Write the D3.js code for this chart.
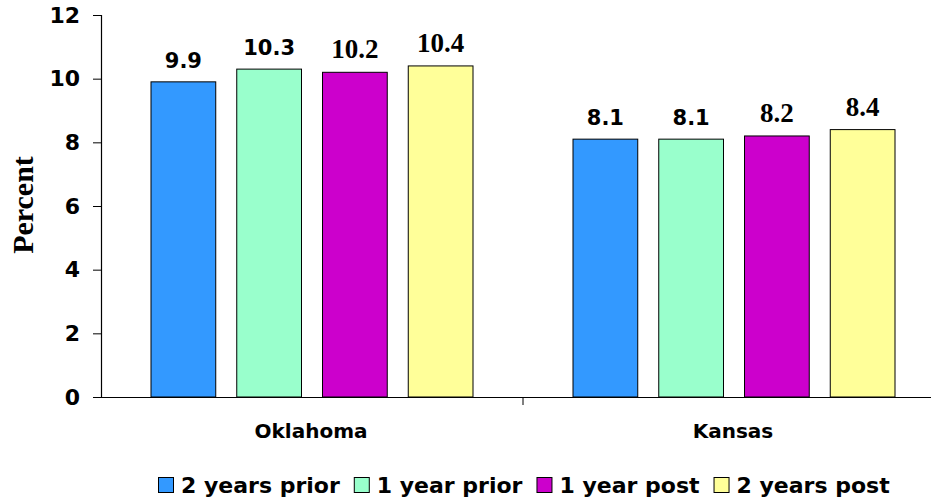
<!DOCTYPE html>
<html>
<head>
<meta charset="utf-8">
<script src="https://cdn.jsdelivr.net/npm/d3@7"></script>
<style>
  html, body { margin: 0; padding: 0; background: #fff; }
  svg { display: block; }
</style>
</head>
<body>
<svg id="chart" width="931" height="500"></svg>
<script>
// Chart data
const states = ["Oklahoma", "Kansas"];
const periods = ["2 years prior", "1 year prior", "1 year post", "2 years post"];
const oklahomaValues = [9.9, 10.3, 10.2, 10.4];
const kansasValues = [8.1, 8.1, 8.2, 8.4];
const yTicks = [0, 2, 4, 6, 8, 10, 12];
const periodColors = ["#3399FF", "#99FFCC", "#CC00CC", "#FFFF99"];

const valuesByState = { "Oklahoma": oklahomaValues, "Kansas": kansasValues };

const sansBold = "'DejaVu Sans', Verdana, sans-serif";
const serifBold = "'Liberation Serif', 'Times New Roman', serif";
// value labels use a sans face for the "prior" bars and a serif face for the "post" bars
const labelFonts = [sansBold, sansBold, serifBold, serifBold];
const labelSizes = [21, 21, 27, 27];

const svg = d3.select("#chart");
const margin = { left: 101, top: 15, bottom: 103 };
const plotRight = 945;
const plotBottom = 500 - margin.bottom;

const x0 = d3.scaleBand().domain(states).range([margin.left, plotRight]).paddingInner(0).paddingOuter(0);
const x1 = d3.scaleBand().domain(periods).range([50, x0.bandwidth() - 50]).paddingInner(0.245).paddingOuter(0);
const y = d3.scaleLinear().domain([0, 12]).range([plotBottom, margin.top]);

// Y axis
const yAxis = svg.append("g")
  .attr("transform", `translate(${margin.left},0)`)
  .call(d3.axisLeft(y).tickValues(yTicks).tickSize(8).tickPadding(13).tickFormat(d3.format("d")));
yAxis.select(".domain").attr("stroke", "#000").attr("stroke-width", 1.2);
yAxis.selectAll(".tick line").attr("stroke", "#000");
yAxis.selectAll(".tick text")
  .attr("font-family", sansBold)
  .attr("font-weight", "bold").attr("font-size", 22).attr("fill", "#000");

// X axis
const xAxis = svg.append("g")
  .attr("transform", `translate(0,${plotBottom})`)
  .call(d3.axisBottom(x0).tickSize(0).tickPadding(0).tickFormat(""));
xAxis.select(".domain").attr("stroke", "#000").attr("stroke-width", 1.2);
// divider tick between categories
xAxis.append("line")
  .attr("x1", x0("Kansas")).attr("x2", x0("Kansas"))
  .attr("y1", 0).attr("y2", 8).attr("stroke", "#000");

// Category labels
svg.append("g").selectAll("text").data(states).join("text")
  .attr("x", d => x0(d) + x0.bandwidth() / 2 - 1)
  .attr("y", 438)
  .attr("text-anchor", "middle")
  .attr("font-family", sansBold).attr("font-weight", "bold").attr("font-size", 20)
  .text(d => d);

// Bars
const groups = svg.append("g").selectAll("g").data(states).join("g")
  .attr("transform", d => `translate(${x0(d)},0)`);

const rows = s => valuesByState[s].map((v, i) => ({ period: periods[i], value: v, i }));

groups.selectAll("rect")
  .data(rows)
  .join("rect")
  .attr("x", d => x1(d.period))
  .attr("y", d => y(d.value))
  .attr("width", x1.bandwidth())
  .attr("height", d => plotBottom - y(d.value))
  .attr("fill", d => periodColors[d.i])
  .attr("stroke", "#000").attr("stroke-width", 1);

groups.selectAll("text.value")
  .data(rows)
  .join("text")
  .attr("class", "value")
  .attr("x", d => x1(d.period) + x1.bandwidth() / 2)
  .attr("y", d => y(d.value) - 14)
  .attr("text-anchor", "middle")
  .attr("font-family", d => labelFonts[d.i])
  .attr("font-weight", "bold")
  .attr("font-size", d => labelSizes[d.i])
  .text(d => d.value.toFixed(1));

// Y axis title
svg.append("text")
  .attr("transform", `translate(33,205) rotate(-90)`)
  .attr("text-anchor", "middle")
  .attr("font-family", serifBold)
  .attr("font-weight", "bold").attr("font-size", 30)
  .text("Percent");

// Legend, laid out left to right
const legend = svg.append("g").attr("transform", "translate(158,477)");
let cursor = 0;
periods.forEach((p, i) => {
  const item = legend.append("g").attr("transform", `translate(${cursor},0)`);
  item.append("rect")
    .attr("x", 0.5).attr("y", 0.5).attr("width", 15).attr("height", 15)
    .attr("fill", periodColors[i]).attr("stroke", "#000").attr("stroke-width", 1);
  const t = item.append("text")
    .attr("x", 23).attr("y", 16)
    .attr("font-family", sansBold).attr("font-weight", "bold").attr("font-size", 22)
    .text(p);
  cursor += 23 + t.node().getComputedTextLength() + 14;
});
</script>
</body>
</html>
